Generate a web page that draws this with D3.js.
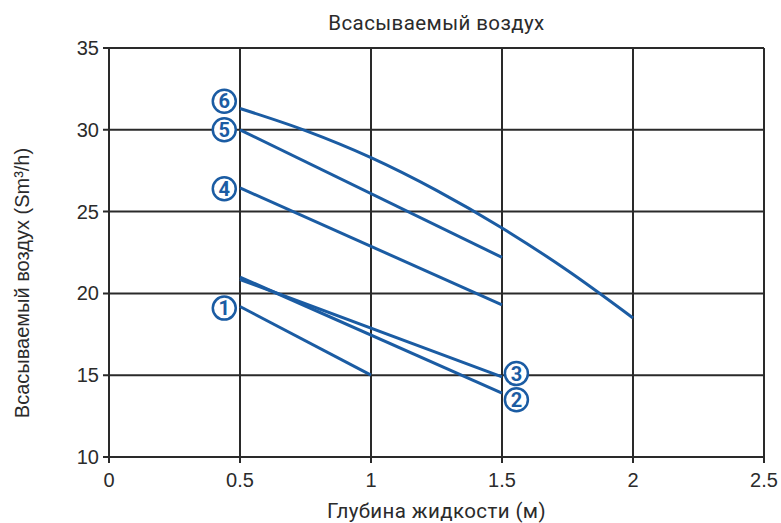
<!DOCTYPE html>
<html>
<head>
<meta charset="utf-8">
<script src="https://cdn.jsdelivr.net/npm/d3@7"></script>
<style>
  body { margin: 0; background: #fff; }
  svg { display: block; font-family: Roboto, "Noto Sans", sans-serif; }
</style>
</head>
<body>
<svg class="vis" width="781" height="523"></svg>
<script>
// data
const xTicks = [0, 0.5, 1, 1.5, 2, 2.5];
const yTicks = [10, 15, 20, 25, 30, 35];

const pump1 = [[0.5, 19.2], [1.0, 15.0]];
const pump2 = [[0.5, 21.0], [1.5, 13.9]];
const pump3 = [[0.5, 20.85], [1.5, 14.9]];
const pump4 = [[0.5, 26.45], [1.5, 19.3]];
const pump5 = [[0.5, 30.0], [1.5, 22.2]];
const pump6 = [[0.5, 31.3], [0.75, 29.95], [1.0, 28.3], [1.25, 26.3], [1.5, 24.0], [1.75, 21.4], [2.0, 18.5]];

const series = [pump1, pump2, pump3, pump4, pump5, pump6];
const labels = ["1", "2", "3", "4", "5", "6"];
// where each circled number sits (data units)
const labelPos = [[0.44, 19.1], [1.555, 13.5], [1.555, 15.1], [0.44, 26.4], [0.44, 30.0], [0.44, 31.75]];

const vis = {
  dims: { w: 781, h: 523, left: 109, right: 764, top: 48, bottom: 457 },
  colors: { line: "#1b5ca3", grid: "#2a2a2a", text: "#2b2b2b" }
};

const svg = d3.select("svg.vis");

const x = d3.scaleLinear().domain([0, 2.5]).range([vis.dims.left, vis.dims.right]);
const y = d3.scaleLinear().domain([10, 35]).range([vis.dims.bottom, vis.dims.top]);

// grid
const grid = svg.append("g");
grid.selectAll("line.vx")
  .data(xTicks)
  .join("line")
  .attr("x1", d => x(d)).attr("x2", d => x(d))
  .attr("y1", y(35)).attr("y2", y(10) + 6)
  .attr("stroke", vis.colors.grid)
  .attr("stroke-width", 2);

grid.selectAll("line.hy")
  .data(yTicks)
  .join("line")
  .attr("y1", d => y(d)).attr("y2", d => y(d))
  .attr("x1", x(0) - 6).attr("x2", x(2.5))
  .attr("stroke", vis.colors.grid)
  .attr("stroke-width", 2);

// tick labels
svg.append("g").selectAll("text")
  .data(xTicks)
  .join("text")
  .attr("x", d => x(d))
  .attr("y", y(10) + 30)
  .attr("text-anchor", "middle")
  .attr("font-family", "'Liberation Sans', Arial, sans-serif")
  .attr("font-size", 20)
  .attr("fill", vis.colors.text)
  .text(d => d);

svg.append("g").selectAll("text")
  .data(yTicks)
  .join("text")
  .attr("x", x(0) - 10)
  .attr("y", d => y(d) + 7)
  .attr("text-anchor", "end")
  .attr("font-family", "'Liberation Sans', Arial, sans-serif")
  .attr("font-size", 20)
  .attr("fill", vis.colors.text)
  .text(d => d);

// lines
const line = d3.line()
  .x(d => x(d[0]))
  .y(d => y(d[1]))
  .curve(d3.curveMonotoneX);

svg.append("g").selectAll("path")
  .data(series)
  .join("path")
  .attr("d", line)
  .attr("fill", "none")
  .attr("stroke", vis.colors.line)
  .attr("stroke-width", 3);

// circled numbers
const badge = svg.append("g").selectAll("g")
  .data(labels.map((l, i) => ({ l: l, p: labelPos[i] })))
  .join("g")
  .attr("transform", d => `translate(${x(d.p[0])},${y(d.p[1])})`);

badge.append("circle")
  .attr("r", 11.5)
  .attr("fill", "#fff")
  .attr("stroke", vis.colors.line)
  .attr("stroke-width", 2.5);

badge.append("text")
  .attr("text-anchor", "middle")
  .attr("y", 7)
  .attr("font-size", 20)
  .attr("font-weight", "bold")
  .attr("fill", vis.colors.line)
  .text(d => d.l);

// titles
svg.append("text")
  .attr("x", (vis.dims.left + vis.dims.right) / 2)
  .attr("y", 30)
  .attr("text-anchor", "middle")
  .attr("font-size", 20.5)
  .attr("letter-spacing", 0.4)
  .attr("fill", vis.colors.text)
  .text("Всасываемый воздух");

svg.append("text")
  .attr("x", (vis.dims.left + vis.dims.right) / 2)
  .attr("y", 518)
  .attr("text-anchor", "middle")
  .attr("font-size", 20.5)
  .attr("letter-spacing", 0.4)
  .attr("fill", vis.colors.text)
  .text("Глубина жидкости (м)");

svg.append("text")
  .attr("transform", "translate(29,283) rotate(-90)")
  .attr("text-anchor", "middle")
  .attr("font-family", "'Liberation Sans', Arial, sans-serif")
  .attr("font-size", 20)
  .attr("fill", vis.colors.text)
  .text("Всасываемый воздух (Sm³/h)");
</script>
</body>
</html>
